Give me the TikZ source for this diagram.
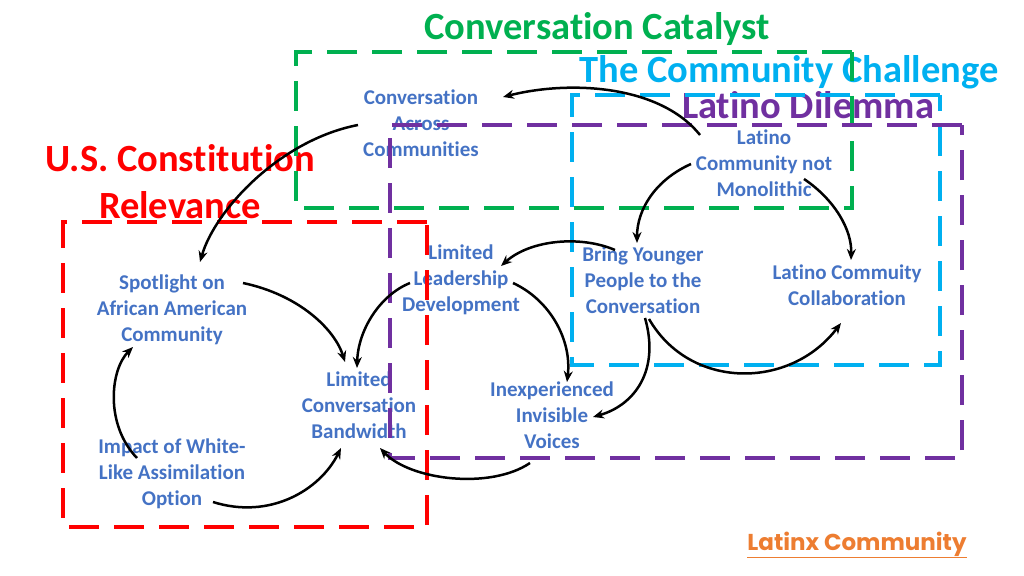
\documentclass[tikz,border=0pt]{standalone}
\usepackage{fontspec}
\setmainfont{Carlito}[BoldFont={Carlito Bold},Ligatures=NoCommon]
\newfontfamily\poppins{Poppins}
\usetikzlibrary{arrows.meta,calc}
\definecolor{cgreen}{RGB}{0,176,80}
\definecolor{ccyan}{RGB}{0,176,240}
\definecolor{cpurple}{RGB}{112,48,160}
\definecolor{cred}{RGB}{255,0,0}
\definecolor{cblue}{RGB}{68,114,196}
\definecolor{corange}{RGB}{237,125,49}
\tikzset{
  lbl/.style={text=cblue, font=\bfseries\fontsize{21}{26}\selectfont, align=center, inner sep=0pt},
  ttl/.style={font=\bfseries\fontsize{38.5}{47}\selectfont, align=center, inner sep=0pt},
  grp/.style={line width=4pt, dash pattern=on 30pt off 15pt},
  arr/.style={line width=2.5pt, -{Stealth[length=11pt,width=9pt]}},
}
\begin{document}
\begin{tikzpicture}[x=1pt,y=-1pt]
\useasboundingbox (0,0) rectangle (1024,575);
% titles
\node[ttl, text=cgreen] (tcc) at (597,29) {Conversation Catalyst};
\node[ttl, text=ccyan] (tch) at (789,72) {The Community Challenge};
\node[ttl, text=cpurple] (tld) at (808,105) {Latino Dilemma};
\node[ttl, text=cred] (tus) at (180,182) {U.S. Constitution\\Relevance};
\node[text=corange, font=\poppins\bfseries\fontsize{23}{27}\selectfont] (tlx) at (857,545) {\underline{Latinx Community}};
% nodes
\node[lbl] (ca) at (421,123) {Conversation\\Across\\Communities};
\node[lbl] (spot) at (172,310) {Spotlight on\\African American\\Community};
\node[lbl] (lcb) at (359,405) {Limited\\Conversation\\Bandwidth};
\node[lbl] (imp) at (172,474) {Impact of White-\\Like Assimilation\\Option};
\node[lbl] (lld) at (461,280) {Limited\\Leadership\\Development};
\node[lbl] (lcn) at (764,163) {Latino\\Community not\\Monolithic};
\node[lbl] (byp) at (643,280) {Bring Younger\\People to the\\Conversation};
\node[lbl] (lcc) at (847,285) {Latino Commuity\\Collaboration};
\node[lbl] (iiv) at (552,415) {Inexperienced\\Invisible\\Voices};
% group boxes
\draw[grp, cgreen] (852,52) -- (296,52) -- (296,208) -- (852,208) -- cycle;
\draw[grp, ccyan] (940,95) -- (572,95) -- (572,365) -- (940,365) -- cycle;
\draw[grp, cpurple] (962,125) -- (390,125) -- (390,458) -- (962,458) -- cycle;
\draw[grp, cred] (427,222) -- (63,222) -- (63,527) -- (427,527) -- cycle;
% arrows
\draw[arr] ($(lcn)+(-64,-28)$) .. controls +(-40,-50) and +(67,-17) .. ($(ca)+(82,-26)$);
\draw[arr] ($(ca)+(-63,2)$) .. controls +(-78,15) and +(15,-52) .. ($(spot)+(28,-48)$);
\draw[arr] ($(spot)+(71,-27)$) .. controls +(57,12) and +(-10,-32) .. ($(lcb)+(-14,-43)$);
\draw[arr] ($(imp)+(-35,-16)$) .. controls +(-32,-33) and +(-23,23) .. ($(spot)+(-39,37)$);
\draw[arr] ($(imp)+(41,28)$) .. controls +(57,18) and +(-21,42) .. ($(lcb)+(-18,43)$);
\draw[arr] ($(lld)+(-51,3)$) .. controls +(-30,12) and +(1,-38) .. ($(lcb)+(-2,-37)$);
\draw[arr] ($(iiv)+(-22,48)$) .. controls +(-40,27) and +(30,32) .. ($(lcb)+(21,43)$);
\draw[arr] ($(byp)+(-28,-30)$) .. controls +(-35,-15) and +(29,-26) .. ($(lld)+(40,-14)$);
\draw[arr] ($(lld)+(52,3)$) .. controls +(37,17) and +(5,-42) .. ($(iiv)+(15,-33)$);
\draw[arr] ($(lcn)+(-73,1)$) .. controls +(-36,16) and +(0,-33) .. ($(byp)+(-6,-37)$);
\draw[arr] ($(lcn)+(40,16)$) .. controls +(31,21) and +(1,-30) .. ($(lcc)+(4,-25)$);
\draw[arr] ($(byp)+(2,38)$) .. controls +(15,52) and +(42,-12) .. ($(iiv)+(41,2)$);
\draw[arr] ($(byp)+(6,39)$) .. controls +(41,71) and +(-51,67) .. ($(lcc)+(-6,38)$);
\end{tikzpicture}
\end{document}
